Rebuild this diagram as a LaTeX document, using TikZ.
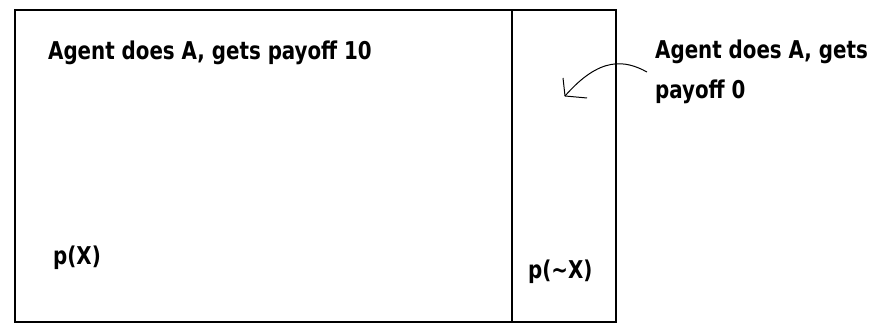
\documentclass[tikz,border=0pt]{standalone}
\usepackage{fontspec}
\setmainfont{DejaVu Sans Condensed}[BoldFont={DejaVu Sans Condensed Bold}]
\usepackage{graphicx}
\newcommand{\squeeze}[1]{\scalebox{0.9}[1]{#1}}
\begin{document}
\begin{tikzpicture}[x=1pt,y=-1pt,
  lbl/.style={anchor=base west,inner sep=0pt,font=\bfseries\fontsize{24.5}{24.5}\selectfont},
  box/.style={draw=black,line width=1.5pt},
  hand/.style={draw=black,line width=1pt}]
\useasboundingbox (0,0) rectangle (884,323);
\draw[box] (15,10) rectangle (616,322);
\draw[box] (512,10) -- (512,322);
\node[lbl] (t1) at (48,60) {\squeeze{Agent does A, gets payoff 10}};
\node[lbl] (t2) at (655,59) {\squeeze{Agent does A, gets}};
\node[lbl] (t3) at (655,99) {\squeeze{payoff 0}};
\node[lbl] (px) at (53,265) {\squeeze{p(X)}};
\node[lbl] (pnx) at (528,279) {\squeeze{p(\char`~X)}};
\coordinate (s) at (647,72);
\coordinate (e) at (565,96);
\coordinate (h1) at (563,78);
\coordinate (h2) at (587,98);
\draw[hand] (s) .. controls (625,60) and (600,56) .. (e);
\draw[hand] (h1) -- (e) -- (h2);
\end{tikzpicture}
\end{document}
